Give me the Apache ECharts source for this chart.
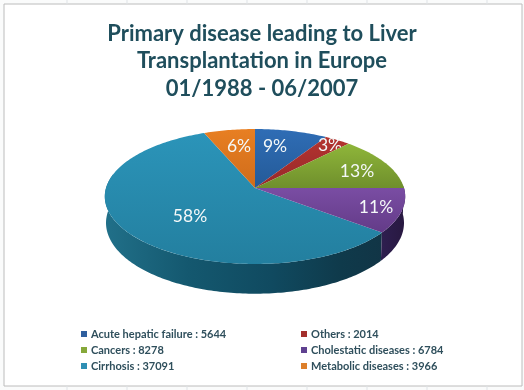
<!DOCTYPE html>
<html>
<head>
<meta charset="utf-8">
<style>
  html, body { margin: 0; padding: 0; background: #fff; }
  #chart { width: 524px; height: 390px; }
</style>
<script src="https://cdn.jsdelivr.net/npm/echarts@6/dist/echarts.min.js"></script>
</head>
<body>
<div id="chart"></div>
<script>
const categories = ["Acute hepatic failure", "Others", "Cancers", "Cholestatic diseases", "Cirrhosis", "Metabolic diseases"];
const values = [5644, 2014, 8278, 6784, 37091, 3966];

const titleLines = ["Primary disease leading to Liver", "Transplantation in Europe", "01/1988 - 06/2007"];

const topColors = [
  ["#2f6db5", "#245a98"],
  ["#b4342f", "#97282a"],
  ["#8fb63a", "#6f8f2c"],
  ["#7a4da3", "#633b88"],
  ["#2b94b9", "#237f9f"],
  ["#e87f22", "#cf6c1b"],
];
const legendColors = ["#2f5f9e", "#a32f2c", "#86a83a", "#5f4190", "#2f8fb4", "#dd7f2a"];

// label offset from the pie apex, px
const labelOffsets = [[20, -42], [75, -43], [102, -17], [121, 19], [-65, 28], [-16, -42]];

const total = values.reduce((a, b) => a + b, 0);

// perspective projection of the tilted disc
const apex = { x: 255, y: 188 };
const rx = 149;
const ry = 66.4;
const persp = 0.126;
const depth = 26;

function project(deg, lower) {
  const t = (deg * Math.PI) / 180;
  const u = Math.sin(t);
  const v = Math.cos(t);
  const w = 1 + persp * v;
  return [
    apex.x + (rx * u * (lower ? 0.992 : 1)) / w,
    apex.y - (ry * v) / w + (lower ? depth / w : 0),
  ];
}

function arcPoints(from, to, lower) {
  const pts = [];
  const n = Math.max(2, Math.ceil(to - from));
  for (let i = 0; i <= n; i++) pts.push(project(from + ((to - from) * i) / n, lower));
  return pts;
}

function gradient(x0, y0, x1, y1, stops) {
  return new echarts.graphic.LinearGradient(
    x0, y0, x1, y1,
    stops.map((s) => ({ offset: s[0], color: s[1] }))
  );
}

function wallFill(i) {
  if (i === 4) {
    return gradient(0, 0, 1, 0, [[0, "#217089"], [0.3, "#14586f"], [0.6, "#104a60"], [0.85, "#0f3a4b"], [1, "#113546"]]);
  }
  return gradient(0, 0, 1, 0, [[0, "#2e1f50"], [1, "#281840"]]);
}

function makeSeries(i) {
  const before = values.slice(0, i).reduce((a, b) => a + b, 0);
  const renderSlice = (params, api) => {
    const start = (before / total) * 360;
    const end = start + (api.value(0) / total) * 360;
    const children = [];

    const wallFrom = Math.max(start, 88);
    const wallTo = Math.min(end, 282);
    if (wallTo > wallFrom) {
      const upper = arcPoints(wallFrom, wallTo, false);
      const lower = arcPoints(wallFrom, wallTo, true).reverse();
      children.push({
        type: "polygon",
        shape: { points: upper.concat(lower) },
        style: { fill: wallFill(i) },
      });
    }

    children.push({
      type: "polygon",
      shape: { points: [[apex.x, apex.y]].concat(arcPoints(start, end, false)) },
      style: {
        fill: gradient(0, 0, 0, 1, [[0, topColors[i][0]], [1, topColors[i][1]]]),
      },
    });

    children.push({
      type: "text",
      x: apex.x + labelOffsets[i][0],
      y: apex.y + labelOffsets[i][1],
      style: {
        text: Math.round((api.value(0) / total) * 100) + "%",
        fill: "#f4f8f8",
        font: "17.5px Lato",
        align: "center",
        verticalAlign: "middle",
      },
    });

    return { type: "group", children };
  };
  return {
    type: "custom",
    name: categories[i] + " : " + values[i],
    coordinateSystem: "none",
    // cirrhosis wall has to sit under every other face
    z: i === 4 ? 1 : 2,
    silent: true,
    itemStyle: { color: legendColors[i] },
    data: [[values[i]]],
    renderItem: renderSlice,
  };
}

function makeLegend(indexes, left) {
  return {
    left,
    top: 323.5,
    orient: "vertical",
    icon: "rect",
    itemWidth: 6,
    itemHeight: 6,
    itemGap: 5,
    selectedMode: false,
    textStyle: {
      color: "#2f4f5c",
      fontFamily: "Lato",
      fontWeight: "bold",
      fontSize: 11,
      padding: [0, 0, 0, -1],
    },
    data: indexes.map((i) => ({
      name: categories[i] + " : " + values[i],
      itemStyle: { color: legendColors[i] },
    })),
  };
}

// spreadsheet cells showing round the chart frame
const cellTicks = [67, 127, 187, 247, 307, 367, 427, 487];
const frame = [];
cellTicks.forEach((x) => {
  frame.push({ type: "line", shape: { x1: x, y1: 0, x2: x, y2: 4 }, style: { stroke: "#dfe3e6", lineWidth: 1 } });
  frame.push({ type: "line", shape: { x1: x, y1: 386, x2: x, y2: 390 }, style: { stroke: "#dfe3e6", lineWidth: 1 } });
});
frame.push({
  type: "rect",
  shape: { x: 4, y: 4, width: 518, height: 382 },
  style: { fill: "#fff", stroke: "#bcbcbc", lineWidth: 1 },
  z: -1,
});

const chart = echarts.init(document.getElementById("chart"));
chart.setOption({
  animation: false,
  backgroundColor: "#fafbfb",
  title: {
    text: titleLines.join("\n"),
    left: 257,
    top: 15,
    textAlign: "center",
    textStyle: {
      color: "#1f4e5c",
      fontFamily: "Lato",
      fontWeight: "bold",
      fontSize: 22,
      lineHeight: 27.5,
    },
  },
  legend: [makeLegend([0, 2, 4], 76), makeLegend([1, 3, 5], 296)],
  graphic: frame,
  series: values.map((v, i) => makeSeries(i)),
});
</script>
</body>
</html>
